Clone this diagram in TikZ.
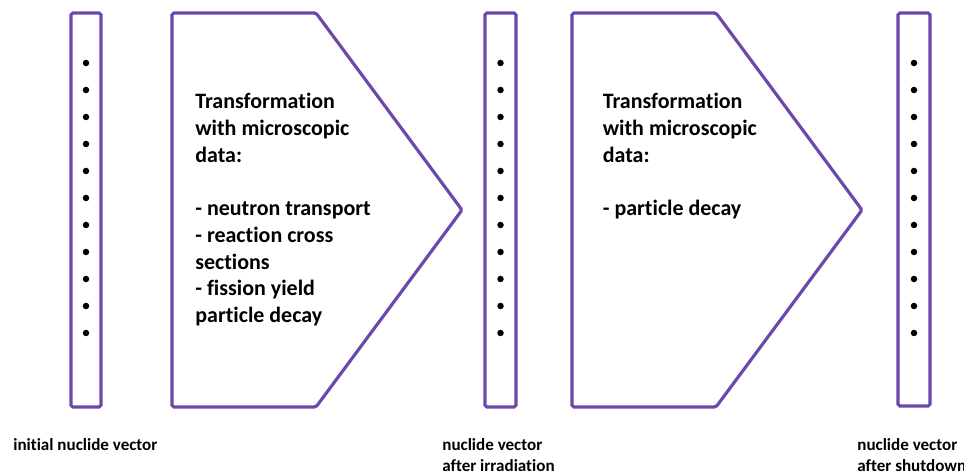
\documentclass[tikz,border=0pt]{standalone}
\usepackage{fontspec}
\setmainfont{Carlito}[Ligatures=NoCommon]
\usepackage{xcolor}
\definecolor{vecpurple}{RGB}{108,72,170}

\begin{document}
\begin{tikzpicture}[
		vecbox/.style={draw=vecpurple, line width=1.8pt, rounded corners=1pt},
		infotext/.style={anchor=north west, inner sep=0pt, align=left, font=\fontsize{12.5}{15.2}\selectfont\bfseries},
		vectag/.style={anchor=north west, inner sep=0pt, align=left, font=\fontsize{9.7}{12}\selectfont\bfseries}
	]
				\useasboundingbox (0,0) rectangle (19.28,9.5);
				% the three nuclide vectors
				\draw[vecbox] (1.42,1.36) rectangle (2.02,9.24);
				\draw[vecbox] (9.70,1.36) rectangle (10.32,9.24);
				\draw[vecbox] (17.96,1.38) rectangle (18.60,9.24);
				\foreach \x in {1.72,10.01,18.28}
					\foreach \i in {0,...,10}
						\fill (\x,8.24-0.54*\i) circle (0.065);
				% transformation steps
				\draw[vecbox] (3.44,1.36) -- (3.44,9.24) -- (6.32,9.24) -- (9.24,5.3) -- (6.32,1.36) -- cycle;
				\draw[vecbox] (11.44,1.36) -- (11.44,9.24) -- (14.32,9.24) -- (17.24,5.3) -- (14.32,1.36) -- cycle;
				\node[infotext] (irrtext) at (3.9,7.64) {Transformation\\with microscopic\\data:\\[15.2pt]- neutron transport\\- reaction cross\\sections\\- fission yield\\particle decay};
				\node[infotext] (shuttext) at (12.05,7.64) {Transformation\\with microscopic\\data:\\[15.2pt]- particle decay};
				% captions below the vectors
				\node[vectag] (initlabel) at (0.26,0.74) {initial nuclide vector};
				\node[vectag] (irrlabel) at (8.84,0.74) {nuclide vector\\after irradiation};
				\node[vectag] (shutlabel) at (17.14,0.74) {nuclide vector\\after shutdown};
			\end{tikzpicture}
\end{document}
